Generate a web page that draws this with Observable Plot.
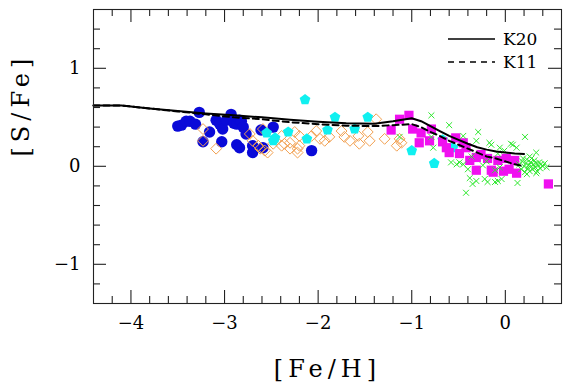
<!DOCTYPE html>
<html>
<head>
<meta charset="utf-8">
<script src="https://cdn.jsdelivr.net/npm/d3@7"></script>
<script src="https://cdn.jsdelivr.net/npm/@observablehq/plot@0.6"></script>
<style>
  html, body { margin: 0; padding: 0; background: white; }
</style>
</head>
<body>
<div id="chart"></div>
<script>
// ---- data ----
const blueCircles = [
  [-3.50,0.41],[-3.46,0.42],[-3.41,0.46],[-3.37,0.46],[-3.31,0.43],[-3.27,0.55],[-3.23,0.25],
  [-3.16,0.35],[-3.09,0.47],[-3.05,0.43],[-3.03,0.25],[-3.02,0.38],[-2.98,0.47],[-2.93,0.53],
  [-2.90,0.44],[-2.87,0.43],[-2.84,0.47],[-2.82,0.46],[-2.80,0.40],[-2.77,0.33],[-2.87,0.22],
  [-2.84,0.19],[-2.70,0.21],[-2.70,0.14],[-2.61,0.37],[-2.59,0.19],[-2.48,0.40],[-2.07,0.16]
];
const orangeDiamonds = [
  [-3.23,0.26],[-3.23,0.38],[-3.09,0.18],[-2.73,0.33],[-2.70,0.26],[-2.64,0.21],[-2.62,0.18],
  [-2.57,0.16],[-2.54,0.14],[-2.59,0.38],[-2.48,0.23],[-2.39,0.21],[-2.39,0.31],[-2.36,0.23],
  [-2.30,0.24],[-2.30,0.18],[-2.25,0.35],[-2.22,0.18],[-2.22,0.14],[-2.20,0.31],[-2.20,0.21],
  [-2.07,0.31],[-2.02,0.36],[-1.98,0.28],[-1.93,0.26],[-1.88,0.30],[-1.75,0.36],[-1.72,0.30],
  [-1.66,0.26],[-1.56,0.23],[-1.57,0.31],[-1.47,0.35],[-1.45,0.26],[-1.38,0.48],[-1.29,0.28],
  [-1.16,0.21],[-1.11,0.24],[-1.13,0.28]
];
const cyanPentagons = [
  [-2.14,0.68],[-2.55,0.34],[-2.46,0.29],[-2.48,0.26],[-2.32,0.35],[-2.12,0.28],[-1.90,0.37],
  [-1.82,0.50],[-1.61,0.38],[-1.47,0.50],[-1.00,0.16],[-0.76,0.03],[-0.67,0.27],[-0.56,0.19]
];
const magentaSquares = [
  [-1.22,0.37],[-1.13,0.48],[-1.03,0.52],[-0.99,0.38],[-0.90,0.34],[-0.92,0.24],[-0.81,0.26],
  [-0.79,0.38],[-0.67,0.25],[-0.63,0.19],[-0.60,0.14],[-0.53,0.29],[-0.49,0.13],[-0.45,0.24],
  [-0.42,0.19],[-0.38,0.06],[-0.31,0.09],[-0.31,-0.04],[-0.26,0.12],[-0.19,0.08],[-0.15,-0.04],
  [-0.13,-0.06],[-0.08,0.06],[-0.02,-0.05],[0.01,0.08],[0.04,-0.03],[0.10,0.06],[0.12,-0.07],
  [0.46,-0.18]
];
const greenCrosses = [
  [-1.13,0.30],[-0.79,0.52],[-0.60,0.42],[-0.77,0.19],[-0.79,0.30],[-0.45,0.31],[-0.29,0.35],
  [-0.31,0.26],[-0.17,0.24],[-0.15,0.22],[-0.06,0.19],[-0.01,0.16],[0.06,0.23],[0.08,0.22],
  [0.12,0.19],[0.21,0.30],[0.33,0.14],[-0.42,-0.27],[-0.38,-0.12],[-0.35,-0.18],[-0.31,-0.15],
  [-0.22,-0.13],[-0.19,-0.16],[-0.11,-0.16],[-0.08,-0.15],[-0.04,-0.13],[0.13,-0.17],[-0.52,0.02],
  [-0.45,0.02],[-0.40,-0.03],[-0.24,0.01],[-0.11,-0.04],[-0.06,-0.01],[-0.08,0.13],[-0.36,0.10],
  [-0.20,0.05],[-0.58,0.04],[-0.49,0.04],
  [0.15,0.02],[0.17,-0.03],[0.18,0.05],[0.20,0.00],[0.21,-0.06],[0.22,0.03],[0.23,0.07],
  [0.24,-0.02],[0.25,0.01],[0.26,-0.05],[0.27,0.04],[0.28,0.00],[0.29,-0.03],[0.30,0.02],
  [0.31,0.06],[0.32,-0.01],[0.33,0.03],[0.34,-0.05],[0.35,0.01],[0.36,0.04],[0.37,-0.02],
  [0.38,0.02],[0.40,0.00],[0.42,0.03],[0.44,-0.01],[0.19,0.08],[0.23,-0.08],[0.28,0.08],
  [0.33,-0.07],[0.26,0.10]
];
const modelFeH = [-4.4,-4.1,-3.8,-3.5,-3.2,-2.9,-2.6,-2.3,-2.0,-1.7,-1.4,-1.2,-1.0,-0.9,-0.8,-0.7,-0.6,-0.5,-0.4,-0.3,-0.2,-0.1,0.0,0.1,0.2];
const k20SFe = [0.62,0.62,0.59,0.565,0.54,0.52,0.50,0.475,0.455,0.44,0.435,0.46,0.49,0.46,0.41,0.36,0.31,0.27,0.23,0.195,0.17,0.15,0.14,0.13,0.125];
const k11SFe = [0.62,0.62,0.59,0.56,0.53,0.50,0.48,0.45,0.43,0.415,0.41,0.42,0.43,0.40,0.35,0.31,0.26,0.22,0.18,0.14,0.10,0.08,0.05,0.02,0.0];

const xMajor = [-4, -3, -2, -1, 0];
const yMajor = [-1, 0, 1];
const xMinor = d3.range(-21, 3).map(i => i / 5).filter(v => !Number.isInteger(v));
const yMinor = d3.range(-6, 8).map(i => i / 5).filter(v => !Number.isInteger(v));

const k20 = modelFeH.map((x, i) => ({x, y: k20SFe[i]}));
const k11 = modelFeH.map((x, i) => ({x, y: k11SFe[i]}));

const pentagon = {
  draw(context, size) {
    const R = Math.sqrt(size / Math.PI) * 1.1;
    for (let k = 0; k < 5; ++k) {
      const a = -Math.PI / 2 + k * 2 * Math.PI / 5;
      const px = R * Math.cos(a), py = R * Math.sin(a);
      if (k === 0) context.moveTo(px, py); else context.lineTo(px, py);
    }
    context.closePath();
  }
};

const X = d => d[0], Y = d => d[1];
const FONT = "DejaVu Serif";

const W = 570, H = 390;
const mL = 93, mR = 9, mT = 9, mB = 87;
const fw = W - mL - mR, fh = H - mT - mB;   // frame size in pixels
const minorLen = 7, majorLen = 13;
const tickStyle = {stroke: "#222", strokeWidth: 1.1};

const chart = Plot.plot({
  width: W,
  height: H,
  marginLeft: mL,
  marginRight: mR,
  marginTop: mT,
  marginBottom: mB,
  style: {fontFamily: FONT, background: "white", color: "black"},
  x: {domain: [-4.4, 0.6], label: null},
  y: {domain: [-1.4, 1.6], label: null},
  marks: [
    Plot.dot(blueCircles, {x: X, y: Y, r: 5.7, symbol: "circle", fill: "#0a0ad8"}),
    Plot.dot(orangeDiamonds, {x: X, y: Y, r: 4.9, symbol: "diamond2", fill: "none", stroke: "#f2a050", strokeWidth: 1}),
    Plot.dot(cyanPentagons, {x: X, y: Y, r: 5.1, symbol: pentagon, fill: "#10f0f0"}),
    Plot.dot(magentaSquares, {x: X, y: Y, r: 5.2, symbol: "square", fill: "#f010f0"}),
    Plot.dot(greenCrosses, {x: X, y: Y, r: 2.8, symbol: "times", fill: "none", stroke: "#2ee82e", strokeWidth: 1}),
    Plot.line(k20, {x: "x", y: "y", stroke: "black", strokeWidth: 2}),
    Plot.line(k11, {x: "x", y: "y", stroke: "black", strokeWidth: 2, strokeDasharray: "6,4"}),
    Plot.frame({stroke: "#222", strokeWidth: 1.1}),
    // inward ticks on all four sides
    Plot.tickX(xMinor, {x: d => d, insetTop: fh - minorLen, ...tickStyle}),
    Plot.tickX(xMajor, {x: d => d, insetTop: fh - majorLen, ...tickStyle}),
    Plot.tickX(xMinor, {x: d => d, insetBottom: fh - minorLen, ...tickStyle}),
    Plot.tickX(xMajor, {x: d => d, insetBottom: fh - majorLen, ...tickStyle}),
    Plot.tickY(yMinor, {y: d => d, insetRight: fw - minorLen, ...tickStyle}),
    Plot.tickY(yMajor, {y: d => d, insetRight: fw - majorLen, ...tickStyle}),
    Plot.tickY(yMinor, {y: d => d, insetLeft: fw - minorLen, ...tickStyle}),
    Plot.tickY(yMajor, {y: d => d, insetLeft: fw - majorLen, ...tickStyle}),
    // tick labels
    Plot.axisX({ticks: xMajor, anchor: "bottom", tickSize: 0, tickPadding: 13, fontSize: 18, label: null, tickFormat: d3.format("d")}),
    Plot.axisY({ticks: yMajor, anchor: "left", tickSize: 0, tickPadding: 13, fontSize: 18, label: null, tickFormat: d3.format("d")}),
    // axis titles
    Plot.text(["[Fe/H]"], {text: d => d, frameAnchor: "bottom", dy: 73, fontSize: 24, lineAnchor: "bottom"}),
    Plot.text(["[S/Fe]"], {text: d => d, frameAnchor: "left", dx: -72, fontSize: 24, rotate: -90, lineAnchor: "middle"})
  ]
});

document.getElementById("chart").appendChild(chart);

const svg = d3.select(chart);
svg.selectAll("text")
  .filter(function () { return this.textContent === "[Fe/H]" || this.textContent === "[S/Fe]"; })
  .attr("letter-spacing", 5);

// legend (top-right, inside frame)
const lg = svg.append("g").attr("font-family", FONT).attr("font-size", 17)
  .attr("fill", "black").attr("text-anchor", "start");
lg.append("line").attr("x1", 448).attr("x2", 495).attr("y1", 39).attr("y2", 39)
  .attr("stroke", "black").attr("stroke-width", 1.3);
lg.append("text").attr("x", 503).attr("y", 45).text("K20");
lg.append("line").attr("x1", 448).attr("x2", 495).attr("y1", 62).attr("y2", 62)
  .attr("stroke", "black").attr("stroke-width", 1.3).attr("stroke-dasharray", "6,5");
lg.append("text").attr("x", 503).attr("y", 68).text("K11");
</script>
</body>
</html>
